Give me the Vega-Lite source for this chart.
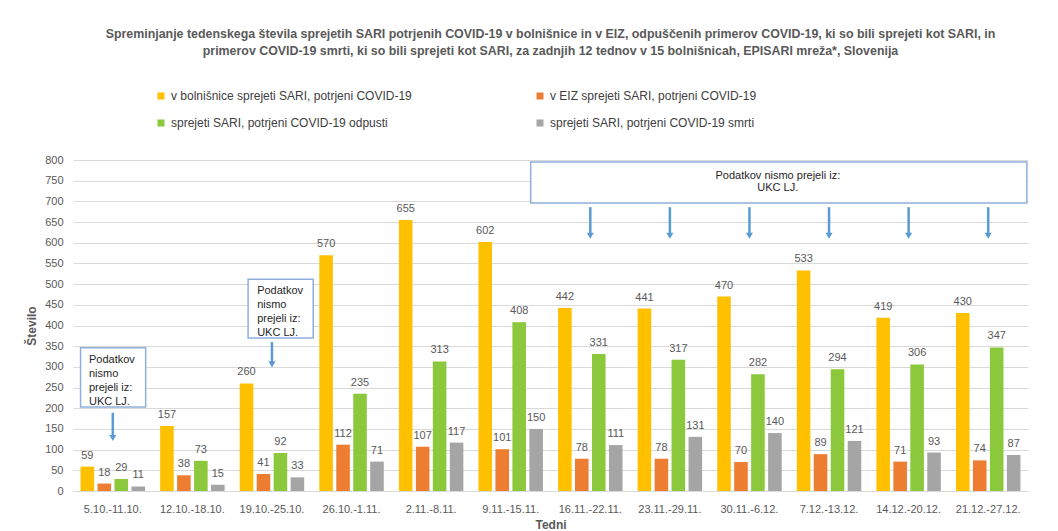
{
  "$schema": "https://vega.github.io/schema/vega-lite/v6.json",
  "width": 955,
  "height": 331,
  "autosize": {"type": "none"},
  "padding": {"left": 73, "top": 160, "right": 30, "bottom": 40},
  "background": "white",
  "config": {
    "font": "Liberation Sans",
    "view": {"stroke": null},
    "axisX": {"labelAngle": 0, "ticks": false, "grid": false, "domainColor": "#D9D9D9", "labelFontSize": 11, "labelColor": "#595959", "labelPadding": 12, "titleFontSize": 12, "titlePadding": 5, "titleColor": "#595959"},
    "axisY": {"grid": true, "gridColor": "#D9D9D9", "domain": false, "ticks": false, "labelFontSize": 11, "labelColor": "#595959", "labelPadding": 10, "titleFontSize": 12, "titleColor": "#595959", "titlePadding": 6, "labelOverlap": false}
  },
  "title": {
    "text": ["Spreminjanje tedenskega števila sprejetih SARI potrjenih COVID-19 v bolnišnice in v EIZ, odpuščenih primerov COVID-19, ki so bili sprejeti kot SARI, in", "primerov COVID-19 smrti, ki so bili sprejeti kot SARI, za zadnjih 12 tednov  v 15 bolnišnicah, EPISARI mreža*, Slovenija"],
    "fontSize": 12.4,
    "fontWeight": "bold",
    "color": "#595959",
    "anchor": "middle",
    "offset": 33,
    "lineHeight": 17
  },
  "datasets": {
    "weekly": [
      {"week": "5.10.-11.10.", "series": "v bolnišnice sprejeti SARI, potrjeni COVID-19", "value": 59},
      {"week": "5.10.-11.10.", "series": "v EIZ sprejeti SARI, potrjeni COVID-19", "value": 18},
      {"week": "5.10.-11.10.", "series": "sprejeti SARI, potrjeni COVID-19 odpusti", "value": 29},
      {"week": "5.10.-11.10.", "series": "sprejeti SARI, potrjeni COVID-19 smrti", "value": 11},
      {"week": "12.10.-18.10.", "series": "v bolnišnice sprejeti SARI, potrjeni COVID-19", "value": 157},
      {"week": "12.10.-18.10.", "series": "v EIZ sprejeti SARI, potrjeni COVID-19", "value": 38},
      {"week": "12.10.-18.10.", "series": "sprejeti SARI, potrjeni COVID-19 odpusti", "value": 73},
      {"week": "12.10.-18.10.", "series": "sprejeti SARI, potrjeni COVID-19 smrti", "value": 15},
      {"week": "19.10.-25.10.", "series": "v bolnišnice sprejeti SARI, potrjeni COVID-19", "value": 260},
      {"week": "19.10.-25.10.", "series": "v EIZ sprejeti SARI, potrjeni COVID-19", "value": 41},
      {"week": "19.10.-25.10.", "series": "sprejeti SARI, potrjeni COVID-19 odpusti", "value": 92},
      {"week": "19.10.-25.10.", "series": "sprejeti SARI, potrjeni COVID-19 smrti", "value": 33},
      {"week": "26.10.-1.11.", "series": "v bolnišnice sprejeti SARI, potrjeni COVID-19", "value": 570},
      {"week": "26.10.-1.11.", "series": "v EIZ sprejeti SARI, potrjeni COVID-19", "value": 112},
      {"week": "26.10.-1.11.", "series": "sprejeti SARI, potrjeni COVID-19 odpusti", "value": 235},
      {"week": "26.10.-1.11.", "series": "sprejeti SARI, potrjeni COVID-19 smrti", "value": 71},
      {"week": "2.11.-8.11.", "series": "v bolnišnice sprejeti SARI, potrjeni COVID-19", "value": 655},
      {"week": "2.11.-8.11.", "series": "v EIZ sprejeti SARI, potrjeni COVID-19", "value": 107},
      {"week": "2.11.-8.11.", "series": "sprejeti SARI, potrjeni COVID-19 odpusti", "value": 313},
      {"week": "2.11.-8.11.", "series": "sprejeti SARI, potrjeni COVID-19 smrti", "value": 117},
      {"week": "9.11.-15.11.", "series": "v bolnišnice sprejeti SARI, potrjeni COVID-19", "value": 602},
      {"week": "9.11.-15.11.", "series": "v EIZ sprejeti SARI, potrjeni COVID-19", "value": 101},
      {"week": "9.11.-15.11.", "series": "sprejeti SARI, potrjeni COVID-19 odpusti", "value": 408},
      {"week": "9.11.-15.11.", "series": "sprejeti SARI, potrjeni COVID-19 smrti", "value": 150},
      {"week": "16.11.-22.11.", "series": "v bolnišnice sprejeti SARI, potrjeni COVID-19", "value": 442},
      {"week": "16.11.-22.11.", "series": "v EIZ sprejeti SARI, potrjeni COVID-19", "value": 78},
      {"week": "16.11.-22.11.", "series": "sprejeti SARI, potrjeni COVID-19 odpusti", "value": 331},
      {"week": "16.11.-22.11.", "series": "sprejeti SARI, potrjeni COVID-19 smrti", "value": 111},
      {"week": "23.11.-29.11.", "series": "v bolnišnice sprejeti SARI, potrjeni COVID-19", "value": 441},
      {"week": "23.11.-29.11.", "series": "v EIZ sprejeti SARI, potrjeni COVID-19", "value": 78},
      {"week": "23.11.-29.11.", "series": "sprejeti SARI, potrjeni COVID-19 odpusti", "value": 317},
      {"week": "23.11.-29.11.", "series": "sprejeti SARI, potrjeni COVID-19 smrti", "value": 131},
      {"week": "30.11.-6.12.", "series": "v bolnišnice sprejeti SARI, potrjeni COVID-19", "value": 470},
      {"week": "30.11.-6.12.", "series": "v EIZ sprejeti SARI, potrjeni COVID-19", "value": 70},
      {"week": "30.11.-6.12.", "series": "sprejeti SARI, potrjeni COVID-19 odpusti", "value": 282},
      {"week": "30.11.-6.12.", "series": "sprejeti SARI, potrjeni COVID-19 smrti", "value": 140},
      {"week": "7.12.-13.12.", "series": "v bolnišnice sprejeti SARI, potrjeni COVID-19", "value": 533},
      {"week": "7.12.-13.12.", "series": "v EIZ sprejeti SARI, potrjeni COVID-19", "value": 89},
      {"week": "7.12.-13.12.", "series": "sprejeti SARI, potrjeni COVID-19 odpusti", "value": 294},
      {"week": "7.12.-13.12.", "series": "sprejeti SARI, potrjeni COVID-19 smrti", "value": 121},
      {"week": "14.12.-20.12.", "series": "v bolnišnice sprejeti SARI, potrjeni COVID-19", "value": 419},
      {"week": "14.12.-20.12.", "series": "v EIZ sprejeti SARI, potrjeni COVID-19", "value": 71},
      {"week": "14.12.-20.12.", "series": "sprejeti SARI, potrjeni COVID-19 odpusti", "value": 306},
      {"week": "14.12.-20.12.", "series": "sprejeti SARI, potrjeni COVID-19 smrti", "value": 93},
      {"week": "21.12.-27.12.", "series": "v bolnišnice sprejeti SARI, potrjeni COVID-19", "value": 430},
      {"week": "21.12.-27.12.", "series": "v EIZ sprejeti SARI, potrjeni COVID-19", "value": 74},
      {"week": "21.12.-27.12.", "series": "sprejeti SARI, potrjeni COVID-19 odpusti", "value": 347},
      {"week": "21.12.-27.12.", "series": "sprejeti SARI, potrjeni COVID-19 smrti", "value": 87}
    ],
    "arrows": [
      {"week": "5.10.-11.10.", "top": 189, "tip": 128},
      {"week": "19.10.-25.10.", "top": 360, "tip": 306},
      {"week": "16.11.-22.11.", "top": 686, "tip": 617},
      {"week": "23.11.-29.11.", "top": 686, "tip": 617},
      {"week": "30.11.-6.12.", "top": 686, "tip": 617},
      {"week": "7.12.-13.12.", "top": 686, "tip": 617},
      {"week": "14.12.-20.12.", "top": 686, "tip": 617},
      {"week": "21.12.-27.12.", "top": 686, "tip": 617}
    ]
  },
  "layer": [
    {
      "data": {"name": "weekly"},
      "mark": {"type": "bar"},
      "encoding": {
        "x": {
          "field": "week", "type": "nominal", "title": "Tedni",
          "scale": {"domain": ["5.10.-11.10.", "12.10.-18.10.", "19.10.-25.10.", "26.10.-1.11.", "2.11.-8.11.", "9.11.-15.11.", "16.11.-22.11.", "23.11.-29.11.", "30.11.-6.12.", "7.12.-13.12.", "14.12.-20.12.", "21.12.-27.12."], "paddingInner": 0.19, "paddingOuter": 0.095}
        },
        "xOffset": {
          "field": "series", "type": "nominal",
          "scale": {"domain": ["v bolnišnice sprejeti SARI, potrjeni COVID-19", "v EIZ sprejeti SARI, potrjeni COVID-19", "sprejeti SARI, potrjeni COVID-19 odpusti", "sprejeti SARI, potrjeni COVID-19 smrti"], "paddingInner": 0.2, "paddingOuter": 0}
        },
        "y": {
          "field": "value", "type": "quantitative", "title": "Število",
          "scale": {"domain": [0, 800], "nice": false},
          "axis": {"values": [0, 50, 100, 150, 200, 250, 300, 350, 400, 450, 500, 550, 600, 650, 700, 750, 800], "tickCount": 20}
        },
        "color": {
          "field": "series", "type": "nominal",
          "scale": {"domain": ["v bolnišnice sprejeti SARI, potrjeni COVID-19", "v EIZ sprejeti SARI, potrjeni COVID-19", "sprejeti SARI, potrjeni COVID-19 odpusti", "sprejeti SARI, potrjeni COVID-19 smrti"], "range": ["#FFC000", "#ED7D31", "#8BC83C", "#A5A5A5"]},
          "legend": {"orient": "none", "legendX": 82, "legendY": -70, "columns": 2, "direction": "horizontal", "title": null, "symbolType": "square", "symbolSize": 49, "symbolStrokeWidth": 0, "labelFontSize": 12, "labelColor": "#404040", "rowPadding": 15, "columnPadding": 122, "labelLimit": 400, "labelOffset": 4}
        }
      }
    },
    {
      "data": {"name": "weekly"},
      "mark": {"type": "text", "baseline": "bottom", "dy": -6, "fontSize": 11, "color": "#595959"},
      "encoding": {
        "x": {"field": "week", "type": "nominal", "title": "Tedni"},
        "xOffset": {"field": "series", "type": "nominal"},
        "y": {"field": "value", "type": "quantitative", "title": "Število"},
        "text": {"field": "value", "type": "quantitative"}
      }
    },
    {
      "data": {"values": [{"week": "5.10.-11.10.", "lo": 203, "hi": 346, "ty": 332, "note": "Podatkov\nnismo\nprejeli iz:\nUKC LJ."}]},
      "layer": [
        {
          "mark": {"type": "rect", "fill": "white", "stroke": "#8FB0DD", "strokeWidth": 1.5},
          "encoding": {
            "x": {"field": "week", "type": "nominal", "bandPosition": 0.0, "title": "Tedni"},
            "x2": {"field": "week", "bandPosition": 1.01},
            "y": {"field": "hi", "type": "quantitative", "title": "Število"},
            "y2": {"field": "lo"}
          }
        },
        {
          "mark": {"type": "text", "align": "left", "baseline": "top", "lineBreak": "\n", "lineHeight": 14, "fontSize": 11, "color": "#262626"},
          "encoding": {
            "x": {"field": "week", "type": "nominal", "bandPosition": 0.13, "title": "Tedni"},
            "y": {"field": "ty", "type": "quantitative", "title": "Število"},
            "text": {"field": "note"}
          }
        }
      ]
    },
    {
      "data": {"values": [{"week": "19.10.-25.10.", "lo": 370, "hi": 512, "ty": 499, "note": "Podatkov\nnismo\nprejeli iz:\nUKC LJ."}]},
      "layer": [
        {
          "mark": {"type": "rect", "fill": "white", "stroke": "#8FB0DD", "strokeWidth": 1.5},
          "encoding": {
            "x": {"field": "week", "type": "nominal", "bandPosition": 0.13, "title": "Tedni"},
            "x2": {"field": "week", "bandPosition": 1.14},
            "y": {"field": "hi", "type": "quantitative", "title": "Število"},
            "y2": {"field": "lo"}
          }
        },
        {
          "mark": {"type": "text", "align": "left", "baseline": "top", "lineBreak": "\n", "lineHeight": 14, "fontSize": 11, "color": "#262626"},
          "encoding": {
            "x": {"field": "week", "type": "nominal", "bandPosition": 0.27, "title": "Tedni"},
            "y": {"field": "ty", "type": "quantitative", "title": "Število"},
            "text": {"field": "note"}
          }
        }
      ]
    },
    {
      "data": {"values": [{"from": "9.11.-15.11.", "to": "21.12.-27.12.", "mid": "30.11.-6.12.", "lo": 696, "hi": 795, "ty": 776, "note": "Podatkov nismo prejeli iz:\nUKC LJ."}]},
      "layer": [
        {
          "mark": {"type": "rect", "fill": "white", "stroke": "#8FB0DD", "strokeWidth": 1.5},
          "encoding": {
            "x": {"field": "from", "type": "nominal", "bandPosition": 0.81, "title": "Tedni"},
            "x2": {"field": "to", "bandPosition": 1.1},
            "y": {"field": "hi", "type": "quantitative", "title": "Število"},
            "y2": {"field": "lo"}
          }
        },
        {
          "mark": {"type": "text", "align": "center", "baseline": "top", "lineBreak": "\n", "lineHeight": 12.5, "fontSize": 11, "color": "#262626"},
          "encoding": {
            "x": {"field": "mid", "type": "nominal", "bandPosition": 0.94, "title": "Tedni"},
            "y": {"field": "ty", "type": "quantitative", "title": "Število"},
            "text": {"field": "note"}
          }
        }
      ]
    },
    {
      "data": {"name": "arrows"},
      "mark": {"type": "rule", "stroke": "#5B9BD5", "strokeWidth": 2.5},
      "encoding": {
        "x": {"field": "week", "type": "nominal", "title": "Tedni"},
        "y": {"field": "top", "type": "quantitative", "title": "Število"},
        "y2": {"field": "tip"}
      }
    },
    {
      "data": {"name": "arrows"},
      "mark": {"type": "point", "shape": "triangle-down", "filled": true, "size": 50, "color": "#5B9BD5", "opacity": 1},
      "encoding": {
        "x": {"field": "week", "type": "nominal", "title": "Tedni"},
        "y": {"field": "tip", "type": "quantitative", "title": "Število"}
      }
    }
  ]
}
